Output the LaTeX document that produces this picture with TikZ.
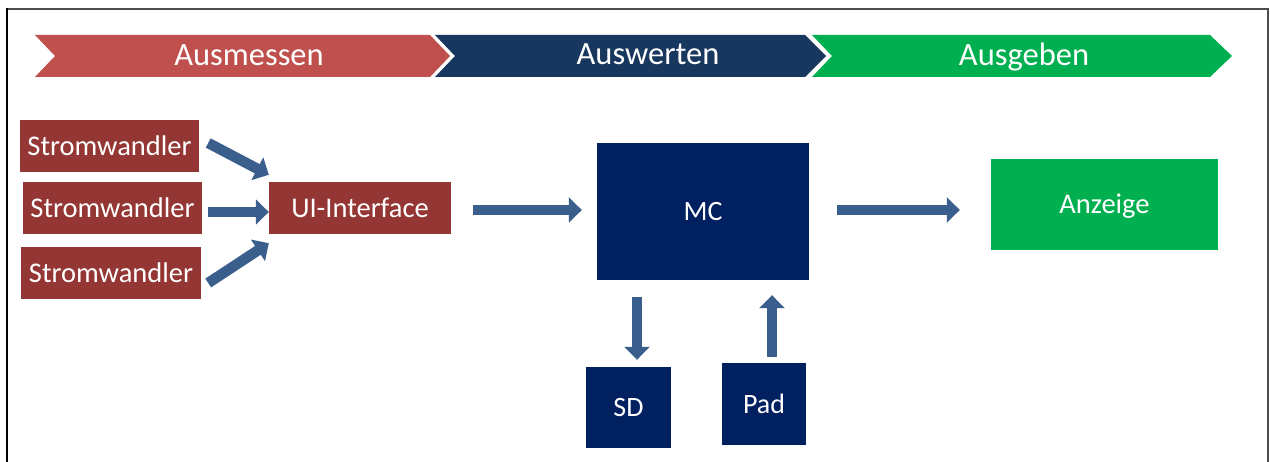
\documentclass[tikz,border=0pt]{standalone}
\usepackage{fontspec}
\setmainfont{Carlito}
\usetikzlibrary{arrows.meta,calc}
\definecolor{cred}{HTML}{C0504D}
\definecolor{cblue}{HTML}{17375E}
\definecolor{cgreen}{HTML}{00B050}
\definecolor{boxred}{HTML}{943634}
\definecolor{boxblue}{HTML}{002060}
\definecolor{arrowblue}{HTML}{3B5F8D}
\tikzset{
  chevtext/.style={text=white,font=\fontsize{32.5}{36}\selectfont,inner sep=0pt,anchor=base},
  boxbase/.style={text=white,inner sep=0pt,text height=24pt,text depth=5pt},
  redbox/.style={boxbase,fill=boxred,font=\fontsize{28.5}{32}\selectfont},
  bluebox/.style={boxbase,fill=boxblue,font=\fontsize{28}{32}\selectfont},
  greenbox/.style={boxbase,fill=cgreen,font=\fontsize{28.5}{32}\selectfont},
  barrow/.style={draw=arrowblue,line width=10.5pt,-{Triangle[length=13pt,width=25pt]}},
}
\begin{document}
\begin{tikzpicture}[x=1pt,y=-1pt]
\useasboundingbox (0,0) rectangle (1270,462);
\fill[white] (0,0) rectangle (1270,462);
% frame
\draw[line width=1.6pt,black!70] (1268,462) -- (1268,9) -- (7,9);
\draw[line width=2.6pt,black] (7,462) -- (7,8);
% chevrons
\fill[cred] (35,35) -- (430,35) -- (450,56) -- (430,77) -- (35,77) -- (55,56) -- cycle;
\fill[cblue] (435,35) -- (805,35) -- (826,56) -- (805,77) -- (435,77) -- (455,56) -- cycle;
\fill[cgreen] (812,35) -- (1210,35) -- (1232,56) -- (1210,77) -- (812,77) -- (832,56) -- cycle;
\node[chevtext] (t1) at (249,66) {Ausmessen};
\node[chevtext] (t2) at (648,64.5) {Auswerten};
\node[chevtext] (t3) at (1024,66) {Ausgeben};
% boxes
\node[redbox,minimum width=179pt,minimum height=52pt] (s1) at (109.5,146) {Stromwandler};
\node[redbox,minimum width=179pt,minimum height=52pt] (s2) at (112.5,208) {Stromwandler};
\node[redbox,minimum width=180pt,minimum height=52pt] (s3) at (111,273) {Stromwandler};
\node[redbox,minimum width=182pt,minimum height=52pt] (ui) at (360,208) {UI-Interface};
\node[bluebox,minimum width=212pt,minimum height=137pt] (mc) at (703,211.5) {MC};
\node[bluebox,minimum width=85pt,minimum height=81pt] (sd) at (628.5,407.5) {SD};
\node[bluebox,minimum width=84pt,minimum height=82pt] (pad) at (764,404) {Pad};
\node[greenbox,minimum width=227pt,minimum height=91pt] (anz) at (1104.5,204.5) {Anzeige};
% arrows
\draw[barrow] ([shift={(9,-3)}]s1.east) -- ([shift={(0,-7)}]ui.north west);
\draw[barrow] ([shift={(6,4)}]s2.east) -- ([shift={(0,4)}]ui.west);
\draw[barrow] ([shift={(7,10)}]s3.east) -- ([shift={(0,9)}]ui.south west);
\draw[barrow,shorten <=22pt,shorten >=15pt] ([yshift=-2pt]ui.east) -- ([yshift=-2pt]ui.east -| mc.west);
\draw[barrow,shorten <=28pt,shorten >=31pt] ([yshift=1.5pt]mc.east) -- ([yshift=1.5pt]mc.east -| anz.west);
\draw[barrow,shorten <=17pt,shorten >=7pt] ([xshift=8.5pt]sd.north |- mc.south) -- ([xshift=8.5pt]sd.north);
\draw[barrow,shorten <=6pt,shorten >=15pt] ([xshift=8pt]pad.north) -- ([xshift=8pt]pad.north |- mc.south);
\end{tikzpicture}
\end{document}
